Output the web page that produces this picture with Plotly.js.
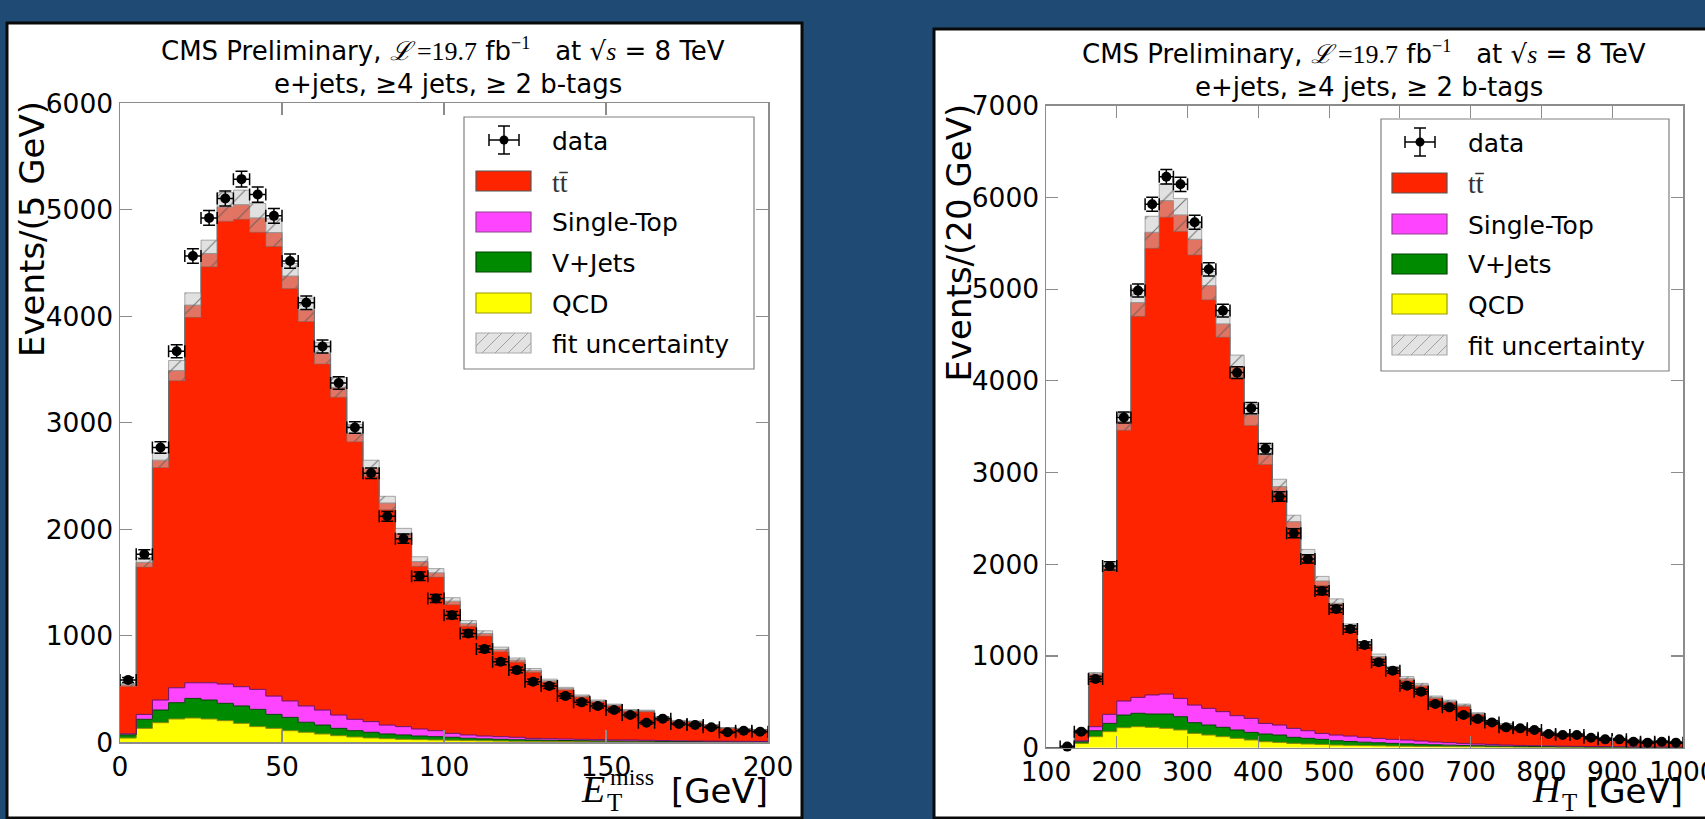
<!DOCTYPE html>
<html><head><meta charset="utf-8">
<script src="https://cdn.plot.ly/plotly-3.0.1.min.js"></script>
<style>html,body{margin:0;padding:0;background:#1f4a74;overflow:hidden}</style>
</head><body><div id="chart" style="width:1705px;height:819px"></div>
<script>
// ---------- Left: MET (5 GeV bins, 0-200) ----------
const metEdges = [0,5,10,15,20,25,30,35,40,45,50,55,60,65,70,75,80,85,90,95,100,105,110,115,120,125,130,135,140,145,150,155,160,165,170,175,180,185,190,195,200];
const metQCD   = [40,131,184,219,228,219,203,178,147,131,109,94,78,62,50,41,34,28,25,22,19,16,14,12,10,9,8,7,6,5,5,4,4,3,3,3,2,2,2,2];
const metVJets = [30,85,119,153,184,178,163,163,162,131,125,94,84,69,59,53,44,41,34,31,28,22,18,16,14,12,11,10,9,8,7,7,6,5,4,4,4,3,3,2];
const metSTop  = [10,46,94,140,147,162,181,181,188,172,154,153,141,125,107,100,84,78,66,56,37,31,27,25,23,16,15,14,13,12,10,11,9,8,7,5,5,5,4,4];
const metTTbar = [460,1428,2252,2978,3546,4031,4480,4526,4427,4352,3990,3720,3350,3077,2687,2380,2085,1812,1572,1482,1241,1047,963,819,725,638,544,472,406,363,328,278,275,216,186,183,151,125,117,109];
const metFitErr= [15,45,70,95,115,125,135,137,135,130,118,110,100,92,82,75,63,50,45,40,33,27,25,22,20,18,15,13,11,10,9,8,8,7,6,6,5,4,4,4];
const metData  = [585,1766,2768,3672,4566,4924,5106,5288,5143,4943,4519,4127,3716,3374,2956,2526,2122,1912,1559,1350,1194,1022,875,756,678,569,528,434,375,341,303,256,184,222,172,163,141,94,109,100];
const metDataErr=[24,42,53,61,68,70,71,73,72,70,67,64,61,58,54,50,46,44,39,37,35,32,30,27,26,24,23,21,19,18,17,16,14,15,13,13,12,10,10,10];
const metXTicks = [0,50,100,150,200];
const metYTicks = [0,1000,2000,3000,4000,5000,6000];

// ---------- Right: HT (20 GeV bins, 100-1000) ----------
const htEdges = [100,120,140,160,180,200,220,240,260,280,300,320,340,360,380,400,420,440,460,480,500,520,540,560,580,600,620,640,660,680,700,720,740,760,780,800,820,840,860,880,900,920,940,960,980,1000];
const htQCD   = [0,2,47,120,175,218,229,222,211,193,156,138,120,102,84,65,58,47,40,36,29,26,23,21,18,16,14,12,11,10,9,8,7,6,5,5,4,4,3,3,3,2,2,2,2];
const htVJets = [0,1,18,65,90,138,146,145,156,145,117,109,102,91,83,84,80,66,62,55,47,42,37,33,29,26,23,20,17,15,13,11,10,9,8,7,6,5,5,4,4,3,3,3,2];
const htSTop  = [0,1,10,44,99,153,174,208,218,200,192,182,171,156,153,116,109,98,83,65,62,59,53,48,44,42,36,30,27,22,18,17,12,10,9,8,7,6,5,5,4,4,3,3,3];
const htTTbar = [0,2,110,576,1603,3047,4304,5045,5380,5271,5078,4609,4228,3807,3309,2928,2600,2254,1917,1662,1437,1193,1018,891,771,669,611,487,450,415,331,255,226,195,181,148,133,128,109,96,83,78,64,58,52];
const htFitErr= [0,1,5,15,40,95,150,175,180,180,170,155,145,125,115,105,80,70,60,50,48,30,25,28,22,22,18,15,14,14,11,10,9,8,8,7,6,6,5,5,4,4,4,3,3];
const htData  = [null,12,175,749,1982,3600,4984,5925,6226,6143,5729,5216,4766,4090,3702,3259,2738,2338,2058,1709,1513,1295,1120,931,840,676,611,476,440,356,313,276,222,211,193,149,138,138,109,91,91,65,55,65,55];
const htDataErr=[0,3,13,27,45,60,71,77,79,78,76,72,69,64,61,57,52,48,45,41,39,36,33,31,29,26,25,22,21,19,18,17,15,15,14,12,12,12,10,10,10,8,7,8,7];
const htXTicks = [100,200,300,400,500,600,700,800,900,1000];
const htYTicks = [0,1000,2000,3000,4000,5000,6000,7000];

const legendLabels = ['data','tt\u0304','Single-Top','V+Jets','QCD','fit uncertainty'];

// ---------- helpers ----------
const W=1705, H=819;
const X=p=>p/W, Y=p=>1-p/H;
const stepY=v=>v.concat([v[v.length-1]]);

function buildTraces(edges,qcd,vj,st,tt,err,data,dataErr,xa,ya){
  const c1=qcd.slice();
  const c2=c1.map((v,i)=>v+vj[i]);
  const c3=c2.map((v,i)=>v+st[i]);
  const c4=c3.map((v,i)=>v+tt[i]);
  const lo=c4.map((v,i)=>v-err[i]);
  const hi=c4.map((v,i)=>v+err[i]);
  const centers=edges.slice(0,-1).map((e,i)=>(e+edges[i+1])/2);
  const half=edges.slice(0,-1).map((e,i)=>(edges[i+1]-e)/2);
  const base={type:'scatter',mode:'lines',x:edges,xaxis:xa,yaxis:ya,hoverinfo:'skip',showlegend:false};
  return [
    Object.assign({},base,{y:stepY(c1),line:{shape:'hv',color:'#8a8a00',width:1},fill:'tozeroy',fillcolor:'#ffff00'}),
    Object.assign({},base,{y:stepY(c2),line:{shape:'hv',color:'#004400',width:1},fill:'tonexty',fillcolor:'#008a00'}),
    Object.assign({},base,{y:stepY(c3),line:{shape:'hv',color:'#6a106a',width:1},fill:'tonexty',fillcolor:'#ff44ff'}),
    Object.assign({},base,{y:stepY(c4),line:{shape:'hv',color:'#666666',width:1},fill:'tonexty',fillcolor:'#ff2400'}),
    Object.assign({},base,{y:stepY(lo),line:{shape:'hv',color:'rgba(110,110,110,0.6)',width:0.8}}),
    Object.assign({},base,{y:stepY(hi),line:{shape:'hv',color:'rgba(110,110,110,0.7)',width:0.8},fill:'tonexty',
      fillcolor:'rgba(195,195,195,0.5)',
      fillpattern:{shape:'/',bgcolor:'rgba(195,195,195,0.5)',fgcolor:'rgba(90,90,90,0.8)',size:15,solidity:0.07}}),
    {type:'scatter',mode:'markers',x:centers,y:data,xaxis:xa,yaxis:ya,hoverinfo:'skip',showlegend:false,cliponaxis:false,
      marker:{color:'black',size:10},
      error_x:{type:'data',array:half,color:'black',thickness:1.5,width:6},
      error_y:{type:'data',array:dataErr,color:'black',thickness:1.5,width:6}}
  ];
}

const traces = buildTraces(metEdges,metQCD,metVJets,metSTop,metTTbar,metFitErr,metData,metDataErr,'x','y')
  .concat(buildTraces(htEdges,htQCD,htVJets,htSTop,htTTbar,htFitErr,htData,htDataErr,'x2','y2'));

const axisCommon={showline:true,linecolor:'#8c8c8c',linewidth:1.5,mirror:'ticks',ticks:'inside',ticklen:12,
  tickwidth:1.2,tickcolor:'#8c8c8c',showgrid:false,zeroline:false,automargin:false,fixedrange:true,
  ticklabeloverflow:'allow',
  tickfont:{family:'DejaVu Sans',size:26.5,color:'black'}};

const shapes=[];
const annotations=[];
function rect(x0,y0,x1,y1,fill,lc,lw,layer){
  shapes.push({type:'rect',xref:'paper',yref:'paper',x0:X(x0),x1:X(x1),y0:Y(y1),y1:Y(y0),
    fillcolor:fill,line:{color:lc,width:lw},layer:layer||'above'});
}
function seg(x0,y0,x1,y1,c,w){
  shapes.push({type:'line',xref:'paper',yref:'paper',x0:X(x0),y0:Y(y0),x1:X(x1),y1:Y(y1),line:{color:c,width:w}});
}
function txt(text,x,y,o){
  annotations.push(Object.assign({text:text,x:X(x),y:Y(y),xref:'paper',yref:'paper',showarrow:false,
    xanchor:'center',yanchor:'middle',font:{family:'DejaVu Sans',size:25,color:'black'}},o||{}));
}

// panels
rect(7,23,802,818,'#ffffff','#0a0a0a',3,'below');
rect(934,29,1712,818,'#ffffff','#0a0a0a',3,'below');

// legends
function legend(bx0,by0,bx1,by1,rows,rx0,tx,dcx){
  rect(bx0,by0,bx1,by1,'#ffffff','#808080',1.2);
  const cy=rows[0];
  seg(dcx-15,cy,dcx+15,cy,'black',1.5);
  seg(dcx-15,cy-6,dcx-15,cy+6,'black',1.5);
  seg(dcx+15,cy-6,dcx+15,cy+6,'black',1.5);
  seg(dcx,cy-14,dcx,cy+14,'black',1.5);
  seg(dcx-6,cy-14,dcx+6,cy-14,'black',1.5);
  seg(dcx-6,cy+14,dcx+6,cy+14,'black',1.5);
  shapes.push({type:'circle',xref:'paper',yref:'paper',x0:X(dcx-4.5),x1:X(dcx+4.5),y0:Y(cy+4.5),y1:Y(cy-4.5),fillcolor:'black',line:{color:'black',width:0}});
  const fills=[['#ff2400','#555555'],['#ff44ff','#904090'],['#008a00','#004400'],['#ffff00','#999900'],['#e3e3e3','#aaaaaa']];
  const rx1=rx0+55;
  fills.forEach((f,i)=>{ const yc=rows[i+1]; rect(rx0,yc-10,rx1,yc+10,f[0],f[1],1.2); });
  const yc=rows[5], yb=yc+10, h=20;
  for(let c=rx0-h;c<rx1;c+=13){
    const t0=Math.max(0,(rx0-c)/h), t1=Math.min(1,(rx1-c)/h);
    if(t1<=t0) continue;
    seg(c+t0*h,yb-t0*h,c+t1*h,yb-t1*h,'#a0a0a0',1);
  }
  legendLabels.forEach((l,i)=>{
    if(i===1) txt(l,tx,rows[i]+1,{xanchor:'left',font:{family:'Liberation Serif',size:28,color:'#333'}});
    else txt(l,tx,rows[i]+1,{xanchor:'left'});
  });
}
legend(464,117,754,369,[140,181,222,262,303,343],476,550,504);
legend(1381,119,1669,371,[142,183,224,264,304,345],1392,1466,1420);

// titles
const SER='font-family:Liberation Serif';
const line1='CMS Preliminary, <span style="'+SER+'"><i>\u2112</i>\u2009=19.7</span> fb<sup><span style="'+SER+'">\u22121</span></sup>\u00a0\u00a0 at \u221a<span style="'+SER+'"><i>s</i></span> = 8 TeV';
const line2='e+jets, \u22654 jets, \u2265 2 b-tags';
txt(line1,443,49,{font:{family:'DejaVu Sans',size:26,color:'black'}});
txt(line2,448,84,{font:{family:'DejaVu Sans',size:26,color:'black'}});
txt(line1,1364,52,{font:{family:'DejaVu Sans',size:26,color:'black'}});
txt(line2,1369,87,{font:{family:'DejaVu Sans',size:26,color:'black'}});

// axis titles
txt('Events/(5 GeV)',31.5,229.5,{textangle:-90,font:{family:'DejaVu Sans',size:34,color:'black'}});
txt('Events/(20 GeV)',958,242.5,{textangle:-90,font:{family:'DejaVu Sans',size:34,color:'black'}});
txt('[GeV]',770,791,{xanchor:'right',font:{family:'DejaVu Sans',size:34,color:'black'}});
txt('<i>E</i>',579,789,{xanchor:'left',font:{family:'Liberation Serif',size:38,color:'black'}});
txt('miss',608,777,{xanchor:'left',font:{family:'Liberation Serif',size:24,color:'black'}});
txt('T',605,802,{xanchor:'left',font:{family:'Liberation Serif',size:25,color:'black'}});
txt('[GeV]',1685,791,{xanchor:'right',font:{family:'DejaVu Sans',size:34,color:'black'}});
txt('<i>H</i>',1530,789,{xanchor:'left',font:{family:'Liberation Serif',size:38,color:'black'}});
txt('T',1560,802,{xanchor:'left',font:{family:'Liberation Serif',size:25,color:'black'}});

const layout={
  width:W,height:H,margin:{l:0,r:0,t:0,b:0},
  paper_bgcolor:'#1f4a74',plot_bgcolor:'rgba(0,0,0,0)',showlegend:false,
  xaxis:Object.assign({},axisCommon,{domain:[X(120),X(768)],range:[0,200],tickvals:metXTicks,ticktext:metXTicks.map(String),anchor:'y'}),
  yaxis:Object.assign({},axisCommon,{domain:[Y(742.3),Y(103.3)],range:[0,6000],tickvals:metYTicks,ticktext:metYTicks.map(String),anchor:'x'}),
  xaxis2:Object.assign({},axisCommon,{domain:[X(1046),X(1683)],range:[100,1000],tickvals:htXTicks,ticktext:htXTicks.map(String),anchor:'y2'}),
  yaxis2:Object.assign({},axisCommon,{domain:[Y(747.7),Y(105.7)],range:[0,7000],tickvals:htYTicks,ticktext:htYTicks.map(String),anchor:'x2'}),
  shapes:shapes,annotations:annotations
};
Plotly.newPlot('chart',traces,layout,{staticPlot:true,displayModeBar:false});
</script></body></html>
